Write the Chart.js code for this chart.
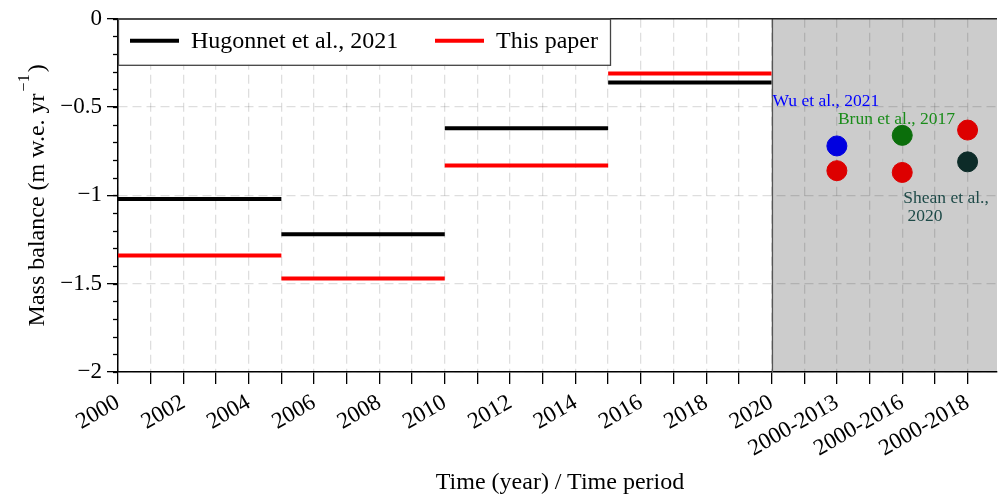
<!DOCTYPE html>
<html>
<head>
<meta charset="utf-8">
<script src="https://cdn.jsdelivr.net/npm/chart.js@4.4.1/dist/chart.umd.min.js"></script>
<style>
  html, body { margin: 0; padding: 0; background: #fff; }
  #wrap { width: 998px; height: 497px; position: relative; }
</style>
</head>
<body>
<div id="wrap"><canvas id="chart"></canvas></div>
<script>
// annual mass balance per period (m w.e. yr-1)
const periodStarts = [2000, 2005, 2010, 2015];
const periodEnds = [2005, 2010, 2015, 2020];
const hugonnet = [-1.02, -1.22, -0.62, -0.36];
const thisPaper = [-1.34, -1.47, -0.83, -0.31];

// comparison with other studies
const periods = ['2000-2013', '2000-2016', '2000-2018'];
const otherStudies = [['Wu et al., 2021'], ['Brun et al., 2017'], ['Shean et al.,', ' 2020']];
const otherValues = [-0.72, -0.66, -0.81];
const ourValues = [-0.86, -0.87, -0.63];
const otherColors = ['#0000e0', '#0b6e0b', '#0c2b28'];
const noteColors = ['#0000ff', '#1a8c1a', '#1e4a48'];
const noteY = [-0.47, -0.57, -1.015];

const yTicks = [0, -0.5, -1, -1.5, -2];

const FONT = "'Liberation Serif', 'Times New Roman', serif";
const periodPos = periods.map((p, i) => 2020 + 2 * (i + 1));

function stepData(vals) {
  const out = [];
  vals.forEach((v, i) => {
    out.push({ x: periodStarts[i], y: v }, { x: periodEnds[i], y: v }, { x: periodEnds[i], y: null });
  });
  return out;
}

function minus(v) {
  return v === 0 ? '0' : (v < 0 ? '\u2212' : '') + Math.abs(v);
}

// shading, frame, legend, notes, axis title
const decorations = {
  id: 'decorations',
  beforeDraw(chart) {
    const { ctx, chartArea: a, scales: { x } } = chart;
    const x0 = x.getPixelForValue(2020);
    ctx.save();
    ctx.fillStyle = '#cccccc';
    ctx.fillRect(x0, a.top, a.right - x0, a.bottom - a.top);
    ctx.restore();
  },
  afterDatasetsDraw(chart) {
    const { ctx, chartArea: a, scales: { x, y } } = chart;
    ctx.save();
    // boundary of the comparison panel
    const x0 = Math.round(x.getPixelForValue(2020)) + 0.5;
    ctx.strokeStyle = '#555';
    ctx.lineWidth = 1.2;
    ctx.beginPath();
    ctx.moveTo(x0, a.top);
    ctx.lineTo(x0, a.bottom);
    ctx.stroke();

    // top frame
    ctx.strokeStyle = '#222';
    ctx.lineWidth = 1.5;
    ctx.beginPath();
    ctx.moveTo(a.left, a.top);
    ctx.lineTo(a.right, a.top);
    ctx.stroke();

    // minor ticks on y
    ctx.strokeStyle = '#000';
    ctx.lineWidth = 1.3;
    for (let v = 0; v >= -2.0001; v -= 0.1) {
      const py = Math.round(y.getPixelForValue(v)) + 0.5;
      ctx.beginPath();
      ctx.moveTo(a.left - 5, py);
      ctx.lineTo(a.left, py);
      ctx.stroke();
    }

    // study notes
    ctx.font = '17.5px ' + FONT;
    ctx.textBaseline = 'middle';
    ctx.textAlign = 'left';
    otherStudies.forEach((lines, i) => {
      ctx.fillStyle = noteColors[i];
      const px = x.getPixelForValue(periodPos[i] - 2) + 1;
      const py = y.getPixelForValue(noteY[i]);
      lines.forEach((t, k) => ctx.fillText(t, px, py + k * 18));
    });

    // legend box
    const lx = a.left, ly = a.top, lw = 492, lh = 46;
    ctx.fillStyle = '#fff';
    ctx.fillRect(lx, ly, lw, lh);
    ctx.strokeStyle = '#444';
    ctx.lineWidth = 1.3;
    ctx.strokeRect(lx + 0.5, ly + 0.5, lw, lh);
    const items = chart.data.datasets.slice(0, 2);
    const offs = [12, 317];
    ctx.font = '24px ' + FONT;
    items.forEach((ds, i) => {
      const sx = lx + offs[i];
      const sy = ly + 22;
      ctx.strokeStyle = ds.borderColor;
      ctx.lineWidth = 4;
      ctx.beginPath();
      ctx.moveTo(sx, sy);
      ctx.lineTo(sx + 49, sy);
      ctx.stroke();
      ctx.fillStyle = '#000';
      ctx.fillText(ds.label, sx + 61, sy + 1);
    });

    // y axis title with superscript
    ctx.translate(38, (a.top + a.bottom) / 2);
    ctx.rotate(-Math.PI / 2);
    const main = 'Mass balance (m w.e. yr';
    ctx.font = '24px ' + FONT;
    const w1 = ctx.measureText(main).width;
    ctx.font = '16px ' + FONT;
    const w2 = ctx.measureText('\u22121').width;
    ctx.font = '24px ' + FONT;
    const w3 = ctx.measureText(')').width;
    let tx = -(w1 + w2 + w3 + 4) / 2;
    ctx.fillStyle = '#000';
    ctx.fillText(main, tx, 0);
    tx += w1 + 2;
    ctx.font = '16px ' + FONT;
    ctx.fillText('\u22121', tx, -13);
    tx += w2 + 2;
    ctx.font = '24px ' + FONT;
    ctx.fillText(')', tx, 0);
    ctx.restore();
  }
};

const gridColor = 'rgba(0,0,0,0.13)';

new Chart(document.getElementById('chart'), {
  type: 'line',
  data: {
    datasets: [
      {
        label: 'Hugonnet et al., 2021',
        data: stepData(hugonnet),
        borderColor: '#000',
        borderWidth: 4,
        borderCapStyle: 'butt',
        pointRadius: 0,
        spanGaps: false
      },
      {
        label: 'This paper',
        data: stepData(thisPaper),
        borderColor: '#ff0000',
        borderWidth: 4,
        borderCapStyle: 'butt',
        pointRadius: 0,
        spanGaps: false
      },
      {
        type: 'scatter',
        label: 'Other studies',
        data: periodPos.map((p, i) => ({ x: p, y: otherValues[i] })),
        backgroundColor: otherColors,
        borderColor: otherColors,
        pointRadius: 10,
        pointHoverRadius: 10,
        showLine: false
      },
      {
        type: 'scatter',
        label: 'This paper (periods)',
        data: periodPos.map((p, i) => ({ x: p, y: ourValues[i] })),
        backgroundColor: '#dd0000',
        borderColor: '#dd0000',
        pointRadius: 10,
        pointHoverRadius: 10,
        showLine: false
      }
    ]
  },
  options: {
    responsive: true,
    maintainAspectRatio: false,
    animation: false,
    events: [],
    layout: { autoPadding: false, padding: { top: 15, right: 1, left: 0, bottom: 0 } },
    plugins: {
      legend: { display: false },
      tooltip: { enabled: false }
    },
    scales: {
      x: {
        type: 'linear',
        min: 2000,
        max: 2026.9,
        afterFit(s) { s.height = 125; s.paddingRight = 0; s.paddingLeft = 0; },
        afterBuildTicks(s) {
          const t = [];
          for (let v = 2000; v <= 2026; v++) t.push({ value: v });
          s.ticks = t;
        },
        ticks: {
          autoSkip: false,
          minRotation: 30,
          maxRotation: 30,
          padding: 5,
          color: '#000',
          font: { family: FONT, size: 23 },
          callback(v) {
            const k = periodPos.indexOf(v);
            if (k >= 0) return periods[k];
            return (v <= 2020 && v % 2 === 0) ? String(v) : '';
          }
        },
        grid: {
          color: gridColor,
          tickColor: '#000',
          tickLength: 12,
          tickWidth: 1.3,
          lineWidth: 1.3
        },
        border: { color: '#000', width: 1.5, dash: [9, 5] }
      },
      y: {
        min: -2,
        max: 0,
        afterFit(s) { s.width = 118; },
        afterBuildTicks(s) {
          s.ticks = yTicks.map(v => ({ value: v }));
        },
        ticks: {
          padding: 5,
          color: '#000',
          font: { family: FONT, size: 23 },
          callback: v => minus(v)
        },
        grid: {
          color: gridColor,
          tickColor: '#000',
          tickLength: 11,
          tickWidth: 1.3,
          lineWidth: 1.3
        },
        border: { color: '#000', width: 1.5, dash: [9, 5] }
      }
    }
  },
  plugins: [decorations]
});
</script>
<div style="position:absolute;left:0;top:466px;width:998px;text-align:center;font:24px 'Liberation Serif', serif;color:#000;padding-left:122px;box-sizing:border-box;line-height:30px;">Time (year) / Time period</div>
</body>
</html>
